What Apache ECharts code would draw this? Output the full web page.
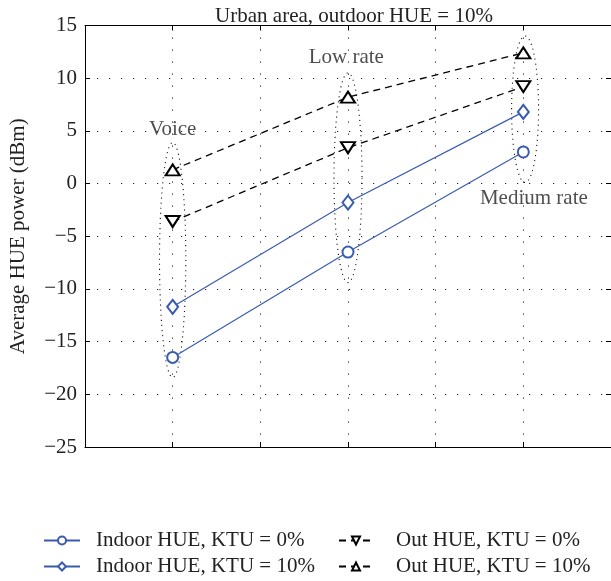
<!DOCTYPE html>
<html>
<head>
<meta charset="utf-8">
<script src="https://cdn.jsdelivr.net/npm/echarts@6/dist/echarts.min.js"></script>
<style>html,body{margin:0;padding:0;background:#fff}#c{width:611px;height:581px}</style>
</head>
<body>
<div id="c"></div>
<script>
// ---- data ----
var groupX = [1, 2, 3];
var groupNames = ['Voice', 'Low rate', 'Medium rate'];
var indoor0 = [-16.5, -6.5, 3.0];
var indoor10 = [-11.7, -1.8, 6.8];
var out0 = [-3.6, 3.4, 9.2];
var out10 = [1.3, 8.2, 12.4];
var seriesNames = ['Indoor HUE, KTU = 0%', 'Indoor HUE, KTU = 10%', 'Out HUE, KTU = 0%', 'Out HUE, KTU = 10%'];
var yTicks = [-25, -20, -15, -10, -5, 0, 5, 10, 15];
// ellipse extents (data units) around each group
var ellipseX = [1.0, 2.0, 3.01];
var ellipseTop = [3.9, 10.5, 14.0];
var ellipseBottom = [-18.4, -9.4, 0.1];
var ellipseHalfW = [0.075, 0.08, 0.077];
// group label anchor points (data units)
var labelX = [1.0, 1.99, 3.06];
var labelY = [5.1, 12.0, -1.4];

var FONT = '"Liberation Serif", "DejaVu Serif", serif';
var BLUE = '#3a5bb0';
var FS = 21;

function pairs(xs, ys) { return xs.map(function (x, i) { return [x, ys[i]]; }); }

var chart = echarts.init(document.getElementById('c'));

var axisCommon = {
  axisLine: { show: true, onZero: false, lineStyle: { color: '#000', width: 1 } },
  axisTick: { show: true, inside: true, length: 5, lineStyle: { color: '#000' } },
  axisLabel: { show: false },
  splitLine: { show: false }
};
var gridDots = { show: true, lineStyle: { color: '#222', width: 1, type: [1.2, 10.8] } };

function legendAt(name, left, top, w, pad) {
  return {
    orient: 'horizontal', left: left, top: top, itemGap: 0, itemWidth: w, itemHeight: 10,
    data: [name], padding: 0,
    textStyle: { fontFamily: FONT, fontSize: FS, color: '#222', padding: [0, 0, 0, pad] }
  };
}

var option = {
  backgroundColor: '#fff',
  animation: false,
  title: {
    text: 'Urban area, outdoor HUE = 10%',
    left: 349, top: 1, textAlign: 'center',
    textStyle: { fontFamily: FONT, fontSize: FS, fontWeight: 'normal', color: '#222' }
  },
  grid: { left: 83.5, top: 25.5, right: -1, bottom: 134 },
  xAxis: [
    Object.assign({}, axisCommon, {
      type: 'value', min: 0.5, max: 3.5, interval: 0.5, position: 'bottom', splitLine: gridDots
    }),
    Object.assign({}, axisCommon, {
      type: 'value', min: 0.5, max: 3.5, interval: 0.5, position: 'top'
    })
  ],
  yAxis: [
    Object.assign({}, axisCommon, {
      type: 'value', min: yTicks[0], max: yTicks[yTicks.length - 1], interval: 5, position: 'left',
      name: 'Average HUE power (dBm)', nameLocation: 'middle', nameGap: 56, nameRotate: 90,
      nameTextStyle: { fontFamily: FONT, fontSize: FS, color: '#222' },
      axisLabel: {
        show: true, margin: 8, fontFamily: FONT, fontSize: FS, color: '#222',
        formatter: function (v) { return String(v).replace('-', '\u2212'); }
      },
      splitLine: gridDots
    }),
    Object.assign({}, axisCommon, {
      type: 'value', min: yTicks[0], max: yTicks[yTicks.length - 1], interval: 5, position: 'right'
    })
  ],
  legend: [
    legendAt(seriesNames[0], 43, 530, 36, 11),
    legendAt(seriesNames[1], 43, 556, 36, 11),
    legendAt(seriesNames[2], 338, 530, 34, 18),
    legendAt(seriesNames[3], 338, 556, 34, 18)
  ],
  series: [
    {
      type: 'custom', name: 'ellipses', silent: true, z: 1,
      data: ellipseX.map(function (x, i) { return [x, ellipseTop[i], ellipseBottom[i], ellipseHalfW[i]]; }),
      renderItem: function (params, api) {
        var x = api.value(0), top = api.value(1), bot = api.value(2), hw = api.value(3);
        var pc = api.coord([x, (top + bot) / 2]);
        var pt = api.coord([x, top]);
        var pr = api.coord([x + hw, (top + bot) / 2]);
        var rx = pr[0] - pc[0], ry = pc[1] - pt[1];
        var pts = [];
        for (var k = 0; k < 120; k++) {
          var a = k / 120 * Math.PI * 2;
          pts.push([pc[0] + rx * Math.cos(a), pc[1] + ry * Math.sin(a)]);
        }
        return {
          type: 'polygon', shape: { points: pts },
          style: { fill: 'none', stroke: '#111', lineWidth: 1.1, lineDash: [1.1, 4] }
        };
      }
    },
    {
      type: 'scatter', name: 'labels', silent: true, symbolSize: 0, z: 5,
      data: labelX.map(function (x, i) { return { value: [x, labelY[i]], name: groupNames[i] }; }),
      label: {
        show: true, position: 'inside', formatter: '{b}',
        fontFamily: FONT, fontSize: FS, color: '#222'
      }
    },
    {
      type: 'line', name: seriesNames[0], data: pairs(groupX, indoor0), z: 3,
      symbol: 'emptyCircle', symbolSize: 11,
      itemStyle: { color: BLUE, borderWidth: 1.2 },
      lineStyle: { color: BLUE, width: 1.2 }
    },
    {
      type: 'line', name: seriesNames[1], data: pairs(groupX, indoor10), z: 3,
      symbol: 'emptyDiamond', symbolSize: [11, 14],
      itemStyle: { color: BLUE, borderWidth: 1.2 },
      lineStyle: { color: BLUE, width: 1.2 }
    },
    {
      type: 'line', name: seriesNames[2], data: pairs(groupX, out0), z: 3,
      symbol: 'emptyTriangle', symbolSize: [14, 11], symbolRotate: 180,
      itemStyle: { color: '#000', borderWidth: 1.3 },
      lineStyle: { color: '#000', width: 1.3, type: [7, 5] }
    },
    {
      type: 'line', name: seriesNames[3], data: pairs(groupX, out10), z: 3,
      symbol: 'emptyTriangle', symbolSize: [14, 11],
      itemStyle: { color: '#000', borderWidth: 1.3 },
      lineStyle: { color: '#000', width: 1.3, type: [7, 5] }
    }
  ]
};
chart.setOption(option);
</script>
</body>
</html>
